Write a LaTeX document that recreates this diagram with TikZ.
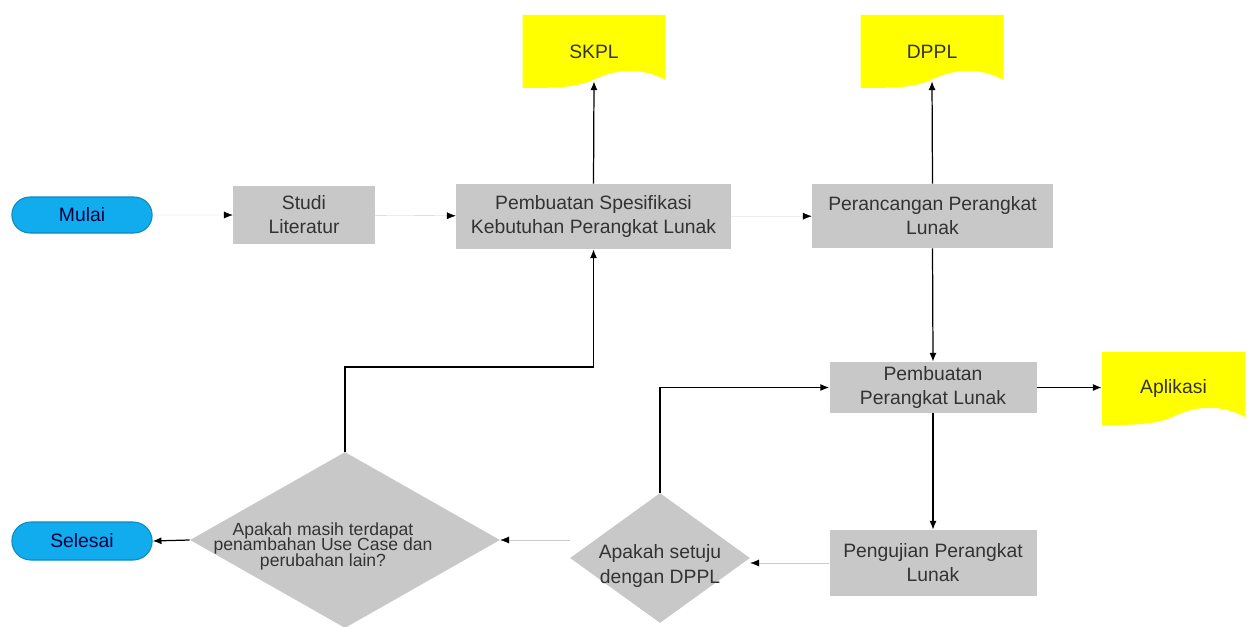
\documentclass[tikz,border=0pt]{standalone}
\usepackage{fontspec}
\setmainfont{Liberation Sans}
\usetikzlibrary{arrows.meta,shapes.geometric,shapes.misc}

\definecolor{biru}{RGB}{16,172,238}
\definecolor{abu}{RGB}{200,200,200}
\definecolor{kuning}{RGB}{255,255,0}
\newcommand{\rapat}{\fontsize{10}{8.8}\selectfont\lineskiplimit-10pt\relax}
\newcommand{\kotak}{path picture bounding box}

\tikzset{
  terminal/.style={rounded rectangle, fill=biru, draw=biru!80!black, line width=0.6pt,
    minimum width=3.04cm, minimum height=0.72cm, text=blue!25!black, font=\fontsize{11}{13}\selectfont},
  proses/.style={rectangle, fill=abu, align=center, text=black!80, inner sep=2pt,
    font=\fontsize{11}{13.6}\selectfont},
  keputusan/.style={diamond, fill=abu, inner sep=0pt},
  dokumen/.style={rectangle, minimum width=2.86cm, minimum height=1.46cm, inner sep=0pt,
    text=black!80, font=\fontsize{11}{13}\selectfont,
    path picture={\fill[kuning] (\kotak.south west) -- (\kotak.north west) -- (\kotak.north east)
      -- ([yshift=0.16cm]\kotak.south east)
      .. controls ([xshift=-0.4cm,yshift=0.38cm]\kotak.south east) and ([xshift=-0.9cm,yshift=0.42cm]\kotak.south east)
      .. ([xshift=1.45cm,yshift=0.18cm]\kotak.south west)
      .. controls ([xshift=1.1cm]\kotak.south west) and ([xshift=0.6cm]\kotak.south west) .. (\kotak.south west) -- cycle;}},
  panah/.style={-{Latex[length=5pt,width=4pt]}, line width=0.7pt},
  samar/.style={-{Latex[length=5pt,width=4pt,color=black]}, line width=0.2pt, draw=black!20}
}

\begin{document}
\begin{tikzpicture}
\useasboundingbox (0,0) rectangle (25.04,12.52);

% baris atas
\node[terminal] (mulai) at (1.64,8.22) {Mulai};
\node[proses, minimum width=2.84cm, minimum height=1.16cm] (studi) at (6.08,8.22) {Studi\\Literatur};
\node[proses, minimum width=5.5cm, minimum height=1.3cm] (spek) at (11.87,8.19) {Pembuatan Spesifikasi\\Kebutuhan Perangkat Lunak};
\node[proses, minimum width=4.82cm, minimum height=1.28cm] (rancang) at (18.65,8.2) {Perancangan Perangkat\\Lunak};

% dokumen
\node[dokumen] (skpl) at (11.88,11.49) {SKPL};
\node[dokumen] (dppl) at (18.64,11.49) {DPPL};
\node[dokumen] (apl) at (23.47,4.75) {Aplikasi};

% kanan
\node[proses, minimum width=4.14cm, minimum height=1.02cm] (bangun) at (18.66,4.77) {Pembuatan\\Perangkat Lunak};
\node[proses, minimum width=4.14cm, minimum height=1.32cm] (uji) at (18.66,1.26) {Pengujian Perangkat\\Lunak};

% keputusan
\node[keputusan, minimum width=3.6cm, minimum height=2.6cm,
  label={[align=center, text=black!80, font=\fontsize{11}{14}\selectfont, yshift=-0.16cm]center:Apakah setuju\\dengan DPPL}] (setuju) at (13.2,1.36) {};
\node[keputusan, minimum width=6.2cm, minimum height=3.52cm,
  label={[align=center, text=black!80, font=\rapat, xshift=-0.44cm, yshift=-0.12cm]center:Apakah masih terdapat\\penambahan Use Case dan\\perubahan lain?}] (masih) at (6.9,1.72) {};

\node[terminal, minimum height=0.76cm] (selesai) at (1.64,1.7) {Selesai};

\coordinate (belok) at (6.9,5.18);

% alur
\draw[samar] (mulai) -- (studi);
\draw[samar] (studi) -- (spek);
\draw[samar] (spek) -- (rancang);
\draw[panah] (spek.north) -- ([yshift=4pt]skpl.south);
\draw[panah] (rancang.north) -- ([yshift=4pt]dppl.south);
\draw[panah] (rancang.south) -- (bangun.north);
\draw[panah] (bangun.east) -- (bangun.east -| apl.west);
\draw[panah] (bangun.south) -- (uji.north);
\draw[samar] (uji.west) -- (uji.west -| setuju.east);
\draw[panah] (setuju.north) |- (bangun.west);
\draw[samar] (setuju.west |- masih.east) -- (masih.east);
\draw[panah] (masih.north) -- (belok) -| (spek.south);
\draw[panah] (masih.west) -- (selesai.east);

\end{tikzpicture}
\end{document}
